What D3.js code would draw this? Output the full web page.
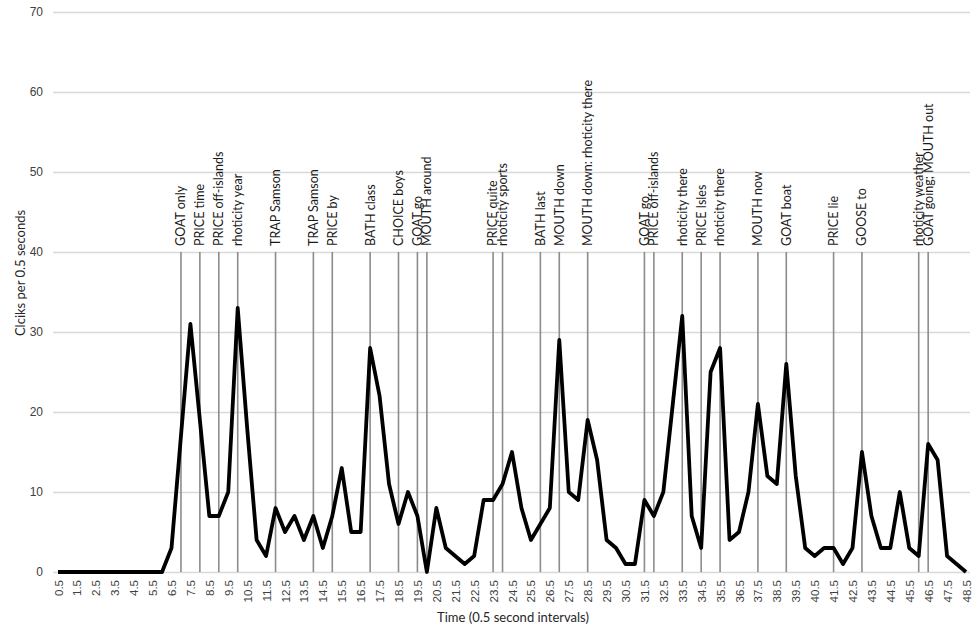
<!DOCTYPE html>
<html>
<head>
<meta charset="utf-8">
<script src="https://cdn.jsdelivr.net/npm/d3@7"></script>
<style>
  html, body { margin: 0; padding: 0; background: #fff; }
  #chart { width: 972px; height: 629px; }
  svg { display: block; font-family: Lato, "Open Sans", sans-serif; }
</style>
</head>
<body>
<div id="chart"></div>
<script>
/* ---------- Data ---------- */
// time points (0.5 s steps)
const times = [
  0.5, 1.0, 1.5, 2.0, 2.5, 3.0, 3.5, 4.0, 4.5, 5.0, 5.5, 6.0,
  6.5, 7.0, 7.5, 8.0, 8.5, 9.0, 9.5, 10.0, 10.5, 11.0, 11.5, 12.0,
  12.5, 13.0, 13.5, 14.0, 14.5, 15.0, 15.5, 16.0, 16.5, 17.0, 17.5, 18.0,
  18.5, 19.0, 19.5, 20.0, 20.5, 21.0, 21.5, 22.0, 22.5, 23.0, 23.5, 24.0,
  24.5, 25.0, 25.5, 26.0, 26.5, 27.0, 27.5, 28.0, 28.5, 29.0, 29.5, 30.0,
  30.5, 31.0, 31.5, 32.0, 32.5, 33.0, 33.5, 34.0, 34.5, 35.0, 35.5, 36.0,
  36.5, 37.0, 37.5, 38.0, 38.5, 39.0, 39.5, 40.0, 40.5, 41.0, 41.5, 42.0,
  42.5, 43.0, 43.5, 44.0, 44.5, 45.0, 45.5, 46.0, 46.5, 47.0, 47.5, 48.0,
  48.5
];

// clicks per 0.5 seconds
const clicks = [
  0, 0, 0, 0, 0, 0, 0, 0, 0, 0, 0, 0,
  3, 17, 31, 19, 7, 7, 10, 33, 18, 4, 2, 8,
  5, 7, 4, 7, 3, 7, 13, 5, 5, 28, 22, 11,
  6, 10, 7, 0, 8, 3, 2, 1, 2, 9, 9, 11,
  15, 8, 4, 6, 8, 29, 10, 9, 19, 14, 4, 3,
  1, 1, 9, 7, 10, 21, 32, 7, 3, 25, 28, 4,
  5, 10, 21, 12, 11, 26, 12, 3, 2, 3, 3, 1,
  3, 15, 7, 3, 3, 10, 3, 2, 16, 14, 2, 1,
  0
];

// x tick labels (every second time point)
const xTicks = [
  0.5, 1.5, 2.5, 3.5, 4.5, 5.5, 6.5, 7.5, 8.5, 9.5, 10.5, 11.5, 12.5,
  13.5, 14.5, 15.5, 16.5, 17.5, 18.5, 19.5, 20.5, 21.5, 22.5, 23.5, 24.5,
  25.5, 26.5, 27.5, 28.5, 29.5, 30.5, 31.5, 32.5, 33.5, 34.5, 35.5, 36.5,
  37.5, 38.5, 39.5, 40.5, 41.5, 42.5, 43.5, 44.5, 45.5, 46.5, 47.5, 48.5
];

const yTicks = [0, 10, 20, 30, 40, 50, 60, 70];

// feature annotations
const markTimes = [
  7.0, 8.0, 9.0, 10.0, 12.0, 14.0, 15.0, 17.0, 18.5, 19.5, 20.0,
  23.5, 24.0, 26.0, 27.0, 28.5, 31.5, 32.0, 33.5, 34.5, 35.5, 37.5,
  39.0, 41.5, 43.0, 46.0, 46.5
];
const markLabels = [
  "GOAT only", "PRICE time", "PRICE off-islands", "rhoticity year", "TRAP Samson",
  "TRAP Samson", "PRICE by", "BATH class", "CHOICE boys", "GOAT go", "MOUTH around",
  "PRICE quite", "rhoticity sports", "BATH last", "MOUTH down", "MOUTH down: rhoticity there",
  "GOAT go", "PRICE off-islands", "rhoticity there", "PRICE Isles", "rhoticity there",
  "MOUTH now", "GOAT boat", "PRICE lie", "GOOSE to", "rhoticity weather", "GOAT going; MOUTH out"
];
const markTop = 40;

/* ---------- Chart ---------- */
const W = 972, H = 629;
const fmt = d3.format(".1f");

const svg = d3.select("#chart").append("svg")
  .attr("width", W).attr("height", H)
  .attr("viewBox", `0 0 ${W} ${H}`);

const x = d3.scalePoint()
  .domain(times.map(fmt))
  .range([58, 966]);

const y = d3.scaleLinear()
  .domain([0, 70])
  .range([572, 12]);

// horizontal grid
svg.append("g")
  .attr("transform", "translate(53,0)")
  .call(d3.axisLeft(y).tickValues(yTicks).tickSize(-917).tickFormat(""))
  .call(g => g.select(".domain").remove())
  .call(g => g.selectAll("line").attr("stroke", "#d9d9d9").attr("stroke-width", 1.3));

// y labels
svg.append("g")
  .attr("transform", "translate(53,0)")
  .call(d3.axisLeft(y).tickValues(yTicks).tickSize(0).tickPadding(10))
  .call(g => g.select(".domain").remove())
  .call(g => g.selectAll("text")
    .attr("fill", "#404040").style("font-size", "12px"));

// x labels (rotated)
svg.append("g")
  .attr("transform", `translate(0,${y(0)})`)
  .call(d3.axisBottom(x).tickValues(xTicks.map(fmt)).tickSize(0))
  .call(g => g.select(".domain").remove())
  .call(g => g.selectAll("text")
    .attr("fill", "#404040").style("font-size", "11.5px")
    .attr("text-anchor", "end")
    .attr("transform", "rotate(-90)")
    .attr("x", -8).attr("y", 0).attr("dy", "0.35em"));

// vertical feature lines
const marks = markTimes.map((t, i) => ({ t: fmt(t), label: markLabels[i] }));

svg.append("g")
  .selectAll("line")
  .data(marks)
  .join("line")
    .attr("x1", d => x(d.t)).attr("x2", d => x(d.t))
    .attr("y1", y(0)).attr("y2", y(markTop))
    .attr("stroke", "#8c8c8c")
    .attr("stroke-width", 1.6);

// clicks line
const line = d3.line()
  .x((d, i) => x(fmt(times[i])))
  .y(d => y(d));

svg.append("path")
  .datum(clicks)
  .attr("fill", "none")
  .attr("stroke", "#000")
  .attr("stroke-width", 3.8)
  .attr("stroke-linejoin", "round")
  .attr("d", line);

// feature labels
svg.append("g")
  .selectAll("text")
  .data(marks)
  .join("text")
    .attr("transform", d => `translate(${x(d.t)},${y(markTop) - 6}) rotate(-90)`)
    .attr("dy", "0.35em")
    .attr("fill", "#1a1a1a")
    .style("font-size", "12.5px")
    .text(d => d.label);

// axis titles
svg.append("text")
  .attr("transform", `translate(20,273) rotate(-90)`)
  .attr("text-anchor", "middle")
  .attr("dy", "0.35em")
  .attr("fill", "#262626")
  .style("font-size", "13px")
  .text("Clciks per 0.5 seconds");

svg.append("text")
  .attr("x", 513).attr("y", 622)
  .attr("text-anchor", "middle")
  .attr("fill", "#262626")
  .style("font-size", "13px")
  .text("Time (0.5 second intervals)");
</script>
</body>
</html>
